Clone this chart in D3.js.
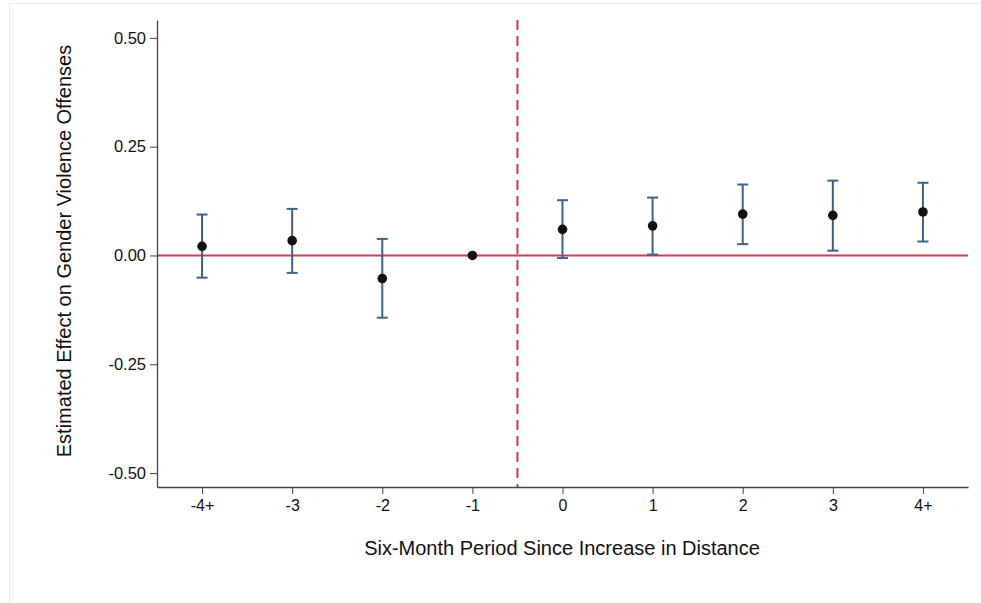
<!DOCTYPE html>
<html>
<head>
<meta charset="utf-8">
<script src="https://cdn.jsdelivr.net/npm/d3@7"></script>
<style>
  body { margin: 0; background: #fff; }
  svg { display: block; font-family: "Liberation Sans", Arial, Helvetica, sans-serif; }
</style>
</head>
<body>
<div id="chart"></div>
<script>
// data
var periods = ['-4+', '-3', '-2', '-1', '0', '1', '2', '3', '4+']
var estimates = [0.021, 0.034, -0.053, 0.0, 0.060, 0.068, 0.095, 0.092, 0.100]
var ciLower = [-0.051, -0.040, -0.143, null, -0.006, 0.002, 0.026, 0.011, 0.032]
var ciUpper = [0.094, 0.107, 0.038, null, 0.127, 0.133, 0.163, 0.172, 0.167]
var yTicks = [-0.5, -0.25, 0, 0.25, 0.5]

var W = 981, H = 603
var margin = { top: 20, right: 13, bottom: 116, left: 157 }
var width = W - margin.left - margin.right
var height = H - margin.top - margin.bottom

var red = '#d3395a'
var blue = '#3a6389'

var root = d3.select('#chart')
  .append('svg')
  .attr('width', W)
  .attr('height', H)

// faint frame of the exported figure
root.append('rect')
  .attr('x', 9.5).attr('y', 3.5)
  .attr('width', W).attr('height', H)
  .attr('fill', 'none')
  .attr('stroke', '#ececec')

var svg = root.append('g')
  .attr('transform', 'translate(' + margin.left + ',' + margin.top + ')')

var data = periods.map(function (p, i) {
  return { label: p, i: i, est: estimates[i], lo: ciLower[i], hi: ciUpper[i] }
})

var x = d3.scaleLinear()
  .domain([-0.5, periods.length - 0.5])
  .range([0, width])

var y = d3.scaleLinear()
  .domain([-0.532, 0.541])
  .range([height, 0])

// zero reference line
svg.append('line')
  .attr('x1', 0).attr('x2', width)
  .attr('y1', y(0)).attr('y2', y(0))
  .attr('stroke', red)
  .attr('stroke-width', 2)

// treatment line between -1 and 0
svg.append('line')
  .attr('x1', x(3.5)).attr('x2', x(3.5))
  .attr('y1', 0).attr('y2', height)
  .attr('stroke', red)
  .attr('stroke-width', 2)
  .attr('stroke-dasharray', '10,6')

// error bars
var ci = data.filter(function (d) { return d.lo !== null })
var bars = svg.append('g')
  .attr('stroke', blue)
  .attr('stroke-width', 2)
  .attr('fill', 'none')

bars.selectAll('.stem')
  .data(ci)
  .enter()
  .append('line')
  .attr('x1', function (d) { return x(d.i) })
  .attr('x2', function (d) { return x(d.i) })
  .attr('y1', function (d) { return y(d.lo) })
  .attr('y2', function (d) { return y(d.hi) })

bars.selectAll('.capTop')
  .data(ci)
  .enter()
  .append('line')
  .attr('x1', function (d) { return x(d.i) - 5.5 })
  .attr('x2', function (d) { return x(d.i) + 5.5 })
  .attr('y1', function (d) { return y(d.hi) })
  .attr('y2', function (d) { return y(d.hi) })

bars.selectAll('.capBottom')
  .data(ci)
  .enter()
  .append('line')
  .attr('x1', function (d) { return x(d.i) - 5.5 })
  .attr('x2', function (d) { return x(d.i) + 5.5 })
  .attr('y1', function (d) { return y(d.lo) })
  .attr('y2', function (d) { return y(d.lo) })

// point estimates
svg.selectAll('.pt')
  .data(data)
  .enter()
  .append('circle')
  .attr('cx', function (d) { return x(d.i) })
  .attr('cy', function (d) { return y(d.est) })
  .attr('r', 4.8)
  .attr('fill', '#111')

// axes
var fmt = d3.format('.2f')
var yAxis = svg.append('g')
  .call(d3.axisLeft(y).tickValues(yTicks)
    .tickFormat(function (v) { return fmt(v).replace('\u2212', '-') })
    .tickSize(7).tickSizeOuter(0))
yAxis.select('.domain').attr('stroke', '#444').attr('stroke-width', 1.3)
yAxis.selectAll('.tick line').attr('stroke', '#444')
yAxis.selectAll('.tick text').attr('font-size', 16.5).attr('fill', '#111').attr('x', -11)

var xAxis = svg.append('g')
  .attr('transform', 'translate(0,' + height + ')')
  .call(d3.axisBottom(x).tickValues(d3.range(periods.length)).tickFormat(function (i) { return periods[i] }).tickSize(7).tickSizeOuter(0))
xAxis.select('.domain').attr('stroke', '#444').attr('stroke-width', 1.3)
xAxis.selectAll('.tick line').attr('stroke', '#444')
xAxis.selectAll('.tick text').attr('font-size', 16).attr('fill', '#111').attr('y', 13)

// axis titles
svg.append('text')
  .attr('x', 562 - margin.left)
  .attr('y', height + 68)
  .attr('text-anchor', 'middle')
  .attr('font-size', 20)
  .attr('fill', '#111')
  .text('Six-Month Period Since Increase in Distance')

svg.append('text')
  .attr('transform', 'translate(' + (-86) + ',' + (251 - margin.top) + ') rotate(-90)')
  .attr('text-anchor', 'middle')
  .attr('font-size', 20)
  .attr('fill', '#111')
  .text('Estimated Effect on Gender Violence Offenses')
</script>
</body>
</html>
